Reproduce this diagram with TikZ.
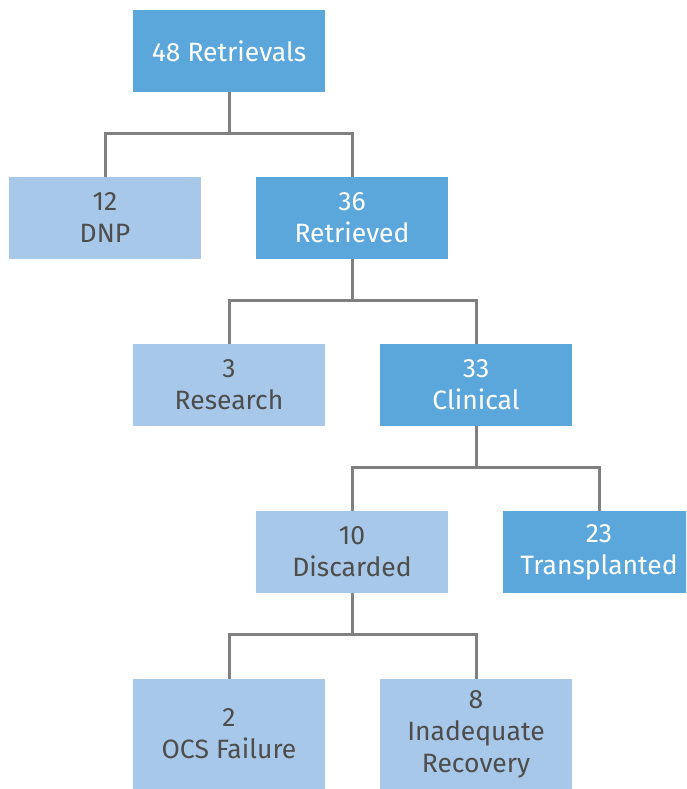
\documentclass[tikz,border=0pt]{standalone}
\usepackage{fontspec}
\setmainfont{Fira Sans}
\definecolor{darkbox}{HTML}{5BA7DB}
\definecolor{lightbox}{HTML}{A7C8E8}
\definecolor{txtgray}{HTML}{4D4D4D}
\definecolor{linegray}{HTML}{808080}
\begin{document}
\begin{tikzpicture}[x=1pt,y=-1pt,
  box/.style={draw=none,minimum width=192pt,minimum height=82pt,inner sep=0pt,align=center,
    font=\fontsize{26.5}{32}\selectfont},
  dbox/.style={box,fill=darkbox,text=white},
  lbox/.style={box,fill=lightbox,text=txtgray},
  conn/.style={draw=linegray,line width=3pt}]
\useasboundingbox (0,0) rectangle (686,789);
\begin{scope}
\clip (0,0) rectangle (686,789);
\node[dbox] (A) at (229,51) {48 Retrievals};
\node[lbox] (B) at (105,218) {12\\DNP};
\node[dbox] (C) at (352,218) {36\\Retrieved};
\node[lbox] (D) at (229,385) {3\\Research};
\node[dbox] (E) at (476,385) {33\\Clinical};
\node[lbox] (F) at (352,552) {10\\Discarded};
\node[dbox] (G) at (599,552) {23\\Transplanted};
\node[lbox,minimum height=110pt] (H) at (229,734) {2\\OCS Failure};
\node[lbox,minimum height=110pt] (I) at (476,734) {8\\Inadequate\\Recovery};
\coordinate (a1) at (229,133);
\coordinate (c1) at (352,300);
\coordinate (e1) at (476,467);
\coordinate (f1) at (352,634);
\draw[conn] (A.south) -- (a1);
\draw[conn] (B.north) |- (a1) -| (C.north);
\draw[conn] (C.south) -- (c1);
\draw[conn] (D.north) |- (c1) -| (E.north);
\draw[conn] (E.south) -- (e1);
\draw[conn] (F.north) |- (e1) -| (G.north);
\draw[conn] (F.south) -- (f1);
\draw[conn] (H.north) |- (f1) -| (I.north);
\end{scope}
\end{tikzpicture}
\end{document}
